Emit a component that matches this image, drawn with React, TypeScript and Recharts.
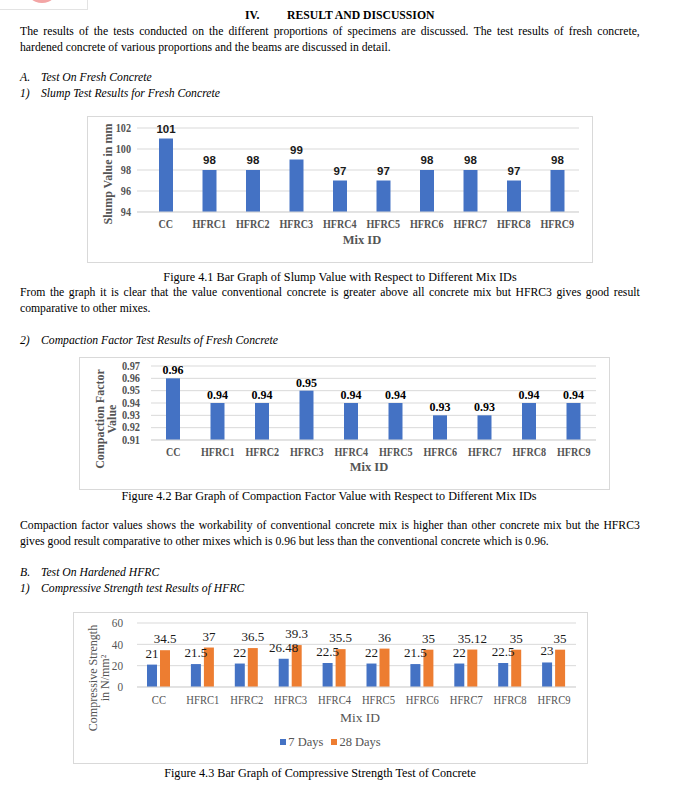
import React from 'react';
import { BarChart, Bar, XAxis, YAxis, CartesianGrid, LabelList, Legend } from 'recharts';

// ---------- data ----------
const mixIds = ['CC', 'HFRC1', 'HFRC2', 'HFRC3', 'HFRC4', 'HFRC5', 'HFRC6', 'HFRC7', 'HFRC8', 'HFRC9'];
const slumpValues = [101, 98, 98, 99, 97, 97, 98, 98, 97, 98];
const slumpTicks = [94, 96, 98, 100, 102];
const compactionValues = [0.96, 0.94, 0.94, 0.95, 0.94, 0.94, 0.93, 0.93, 0.94, 0.94];
const compactionTicks = [0.91, 0.92, 0.93, 0.94, 0.95, 0.96, 0.97];
const strength7Days = [21, 21.5, 22, 26.48, 22.5, 22, 21.5, 22, 22.5, 23];
const strength28Days = [34.5, 37, 36.5, 39.3, 35.5, 36, 35, 35.12, 35, 35];
const strengthTicks = [0, 20, 40, 60];
const strengthSeries = ['7 Days', '28 Days'];

const slumpData = mixIds.map((mix, i) => ({ mix, value: slumpValues[i] }));
const compactionData = mixIds.map((mix, i) => ({ mix, value: compactionValues[i] }));
const strengthData = mixIds.map((mix, i) => ({ mix, d7: strength7Days[i], d28: strength28Days[i] }));

// ---------- styles ----------
const SERIF = '"Liberation Serif", "Times New Roman", serif';
const SANS = '"Liberation Sans", Arial, sans-serif';
const GREY = '#555555';
const BLUE = '#4472C4';
const ORANGE = '#ED7D31';
const GRID = '#d9d9d9';

type TickOpts = {
  size: number;
  weight?: string | number;
  sx?: number;
  dx?: number;
  dy?: number;
  anchor: 'start' | 'middle' | 'end';
  format?: (v: any) => string;
};

function makeTick(o: TickOpts) {
  return (props: any) => {
    const { x, y, payload } = props;
    const label = o.format ? o.format(payload.value) : String(payload.value);
    return (
      <g transform={`translate(${x + (o.dx || 0)},${y + (o.dy || 0)})`}>
        <text
          transform={`scale(${o.sx ?? 1},1)`}
          textAnchor={o.anchor}
          fill={GREY}
          fontFamily={SERIF}
          fontSize={o.size}
          fontWeight={o.weight ?? 'normal'}
        >
          {label}
        </text>
      </g>
    );
  };
}

function yTitle(lines: string[], xs: number[], cy: number, size: number, weight: string | number) {
  return () => (
    <g>
      {lines.map((t, i) => (
        <text
          key={i}
          x={xs[i]}
          y={cy}
          transform={`rotate(-90 ${xs[i]} ${cy})`}
          textAnchor="middle"
          dominantBaseline="central"
          fill={GREY}
          fontFamily={SERIF}
          fontSize={size}
          fontWeight={weight}
        >
          {t}
        </text>
      ))}
    </g>
  );
}

function xTitle(text: string, x: number, y: number, size: number, weight: string | number) {
  return () => (
    <text x={x} y={y} textAnchor="middle" fill={GREY} fontFamily={SERIF} fontSize={size} fontWeight={weight}>
      {text}
    </text>
  );
}

const renderLegend = (props: any) => {
  const items = [...(props.payload || [])].sort(
    (a: any, b: any) => strengthSeries.indexOf(a.value) - strengthSeries.indexOf(b.value)
  );
  return (
    <div
      style={{
        display: 'flex',
        justifyContent: 'center',
        alignItems: 'center',
        fontFamily: SERIF,
        fontSize: 12.5,
        color: GREY,
        lineHeight: '14px',
      }}
    >
      {items.map((it: any, i: number) => (
        <div key={i} style={{ display: 'flex', alignItems: 'center', marginRight: i < items.length - 1 ? 8 : 0 }}>
          <span style={{ width: 6, height: 6, background: it.color, marginRight: 2, display: 'inline-block' }} />
          <span>{it.value}</span>
        </div>
      ))}
    </div>
  );
};

// ---------- text helpers ----------
const BODY = 11.7;

function JLine({ top, text }: { top: number; text: string }) {
  const words = text.split(' ');
  return (
    <div
      style={{
        position: 'absolute',
        left: 20,
        top,
        width: 620,
        height: 16,
        lineHeight: '16px',
        fontSize: BODY,
        display: 'flex',
        justifyContent: 'space-between',
        whiteSpace: 'nowrap',
      }}
    >
      {words.map((w, i) => (
        <span key={i}>{w}</span>
      ))}
    </div>
  );
}

function PLine({ top, text, left = 20 }: { top: number; text: string; left?: number }) {
  return (
    <div style={{ position: 'absolute', left, top, lineHeight: '16px', fontSize: BODY, whiteSpace: 'nowrap' }}>{text}</div>
  );
}

function Heading({ top, num, text }: { top: number; num: string; text: string }) {
  return (
    <>
      <div style={{ position: 'absolute', left: 20, top, lineHeight: '16px', fontSize: BODY, fontStyle: 'italic', whiteSpace: 'nowrap' }}>
        {num}
      </div>
      <div style={{ position: 'absolute', left: 41, top, lineHeight: '16px', fontSize: BODY, fontStyle: 'italic', whiteSpace: 'nowrap' }}>
        {text}
      </div>
    </>
  );
}

function Caption({ top, cx, text }: { top: number; cx: number; text: string }) {
  return (
    <div
      style={{
        position: 'absolute',
        left: cx - 300,
        top,
        width: 600,
        textAlign: 'center',
        lineHeight: '16px',
        fontSize: 12.2,
        whiteSpace: 'nowrap',
      }}
    >
      {text}
    </div>
  );
}

function Frame({ left, top, width, height, children }: any) {
  return (
    <div style={{ position: 'absolute', left, top, width, height }}>
      <div
        style={{
          position: 'absolute',
          left: 0,
          top: 0,
          width,
          height,
          border: `1px solid ${GRID}`,
          boxSizing: 'border-box',
          pointerEvents: 'none',
        }}
      />
      <div style={{ position: 'absolute', left: 0, top: 0 }}>{children}</div>
    </div>
  );
}

// ---------- charts ----------
function SlumpChart() {
  return (
    <BarChart width={506} height={147} data={slumpData} margin={{ top: 12, right: 14, bottom: 0, left: 0 }}>
      <CartesianGrid vertical={false} stroke={GRID} />
      <XAxis
        dataKey="mix"
        height={51}
        interval={0}
        tickLine={false}
        tickSize={0}
        tickMargin={0}
        axisLine={{ stroke: GRID }}
        padding={{ left: 7, right: 0 }}
        tick={makeTick({ size: 11.5, weight: 'bold', anchor: 'middle', dy: 15.5, sx: 0.88 })}
        label={xTitle('Mix ID', 275, 128, 12.5, 'bold')}
      />
      <YAxis
        width={50}
        domain={[94, 102]}
        ticks={slumpTicks}
        interval={0}
        axisLine={false}
        tickLine={false}
        tickSize={0}
        tickMargin={0}
        tick={makeTick({ size: 12, weight: 'bold', anchor: 'end', dx: -6, dy: 4, sx: 0.85 })}
        label={yTitle(['Slump Value in mm'], [21], 58, 12, 'bold')}
      />
      <Bar dataKey="value" fill={BLUE} barSize={14} isAnimationActive={false}>
        <LabelList dataKey="value" position="top" offset={6} fill="#1a1a1a" fontSize={11.5} fontFamily={SANS} fontWeight="bold" />
      </Bar>
    </BarChart>
  );
}

function CompactionChart() {
  return (
    <BarChart width={531} height={133} data={compactionData} margin={{ top: 9, right: 14, bottom: 0, left: 0 }}>
      <CartesianGrid vertical={false} stroke={GRID} />
      <XAxis
        dataKey="mix"
        height={50}
        interval={0}
        tickLine={false}
        tickSize={0}
        tickMargin={0}
        axisLine={{ stroke: GRID }}
        tick={makeTick({ size: 11.5, weight: 'bold', anchor: 'middle', dy: 16, sx: 0.88 })}
        label={xTitle('Mix ID', 290, 114, 12.5, 'bold')}
      />
      <YAxis
        width={72}
        domain={[0.91, 0.97]}
        ticks={compactionTicks}
        interval={0}
        axisLine={false}
        tickLine={false}
        tickSize={0}
        tickMargin={0}
        tick={makeTick({ size: 11.5, weight: 'bold', anchor: 'end', dx: -11, dy: 3.8, sx: 0.9, format: (v) => Number(v).toFixed(2) })}
        label={yTitle(['Compaction Factor', 'Value'], [21, 33], 62, 12, 'bold')}
      />
      <Bar dataKey="value" fill={BLUE} barSize={14} isAnimationActive={false}>
        <LabelList dataKey="value" position="top" offset={4} fill="#000" fontSize={12} fontFamily={SERIF} fontWeight="bold" />
      </Bar>
    </BarChart>
  );
}

function StrengthChart() {
  return (
    <BarChart width={515} height={152} data={strengthData} barGap={3} margin={{ top: 11, right: 12, bottom: 0, left: 0 }}>
      <CartesianGrid vertical={false} stroke={GRID} />
      <XAxis
        dataKey="mix"
        height={77}
        interval={0}
        tickLine={false}
        tickSize={0}
        tickMargin={0}
        axisLine={{ stroke: GRID }}
        tick={makeTick({ size: 12.5, anchor: 'middle', dy: 17, sx: 0.85 })}
        label={xTitle('Mix ID', 287, 110, 13.5, 'normal')}
      />
      <YAxis
        width={64}
        domain={[0, 60]}
        ticks={strengthTicks}
        interval={0}
        axisLine={false}
        tickLine={false}
        tickSize={0}
        tickMargin={0}
        tick={makeTick({ size: 12.5, anchor: 'end', dx: -14, dy: 4.3, sx: 0.9 })}
        label={yTitle(['Compressive Strength', 'in N/mm\u00B2'], [20, 32], 66, 12, 'normal')}
      />
      <Legend
        layout="horizontal"
        verticalAlign="middle"
        align="center"
        content={renderLegend}
        wrapperStyle={{ top: 123, left: 0, width: 515 }}
      />
      <Bar dataKey="d7" name={strengthSeries[0]} fill={BLUE} barSize={10} isAnimationActive={false}>
        <LabelList dataKey="d7" position="top" offset={7} fill="#1a1a1a" fontSize={13} fontFamily={SERIF} />
      </Bar>
      <Bar dataKey="d28" name={strengthSeries[1]} fill={ORANGE} barSize={10} isAnimationActive={false}>
        <LabelList dataKey="d28" position="top" offset={7} fill="#1a1a1a" fontSize={13} fontFamily={SERIF} />
      </Bar>
    </BarChart>
  );
}

export default function App() {
  return (
    <div
      style={{
        position: 'absolute',
        left: 0,
        top: 0,
        width: 677,
        height: 787,
        background: '#fff',
        overflow: 'hidden',
        fontFamily: SERIF,
        color: '#000',
      }}
    >
      {/* logo remnant */}
      <div
        style={{
          position: 'absolute',
          left: -1,
          top: -1,
          width: 89,
          height: 11,
          borderRight: '1px solid #e3e3e3',
          borderBottom: '1px solid #e3e3e3',
          boxSizing: 'border-box',
          overflow: 'hidden',
        }}
      >
        <div
          style={{
            position: 'absolute',
            left: 26,
            top: -30,
            width: 34,
            height: 34,
            borderRadius: '50%',
            background: '#f3a5a5',
          }}
        />
      </div>

      <div style={{ position: 'absolute', left: 245, top: 8, lineHeight: '16px', fontSize: BODY, fontWeight: 'bold' }}>IV.</div>
      <div style={{ position: 'absolute', left: 287, top: 8, lineHeight: '16px', fontSize: BODY, fontWeight: 'bold' }}>
        RESULT AND DISCUSSION
      </div>
      <JLine
        top={24}
        text="The results of the tests conducted on the different proportions of specimens are discussed. The test results of fresh concrete,"
      />
      <PLine top={40} text="hardened concrete of various proportions and the beams are discussed in detail." />

      <Heading top={70} num="A." text="Test On Fresh Concrete" />
      <Heading top={86} num="1)" text="Slump Test Results for Fresh Concrete" />

      <Frame left={87} top={116} width={506} height={147}>
        <SlumpChart />
      </Frame>

      <Caption top={269} cx={340} text="Figure 4.1 Bar Graph of Slump Value with Respect to Different Mix IDs" />
      <JLine
        top={285}
        text="From the graph it is clear that the value conventional concrete is greater above all concrete mix but HFRC3 gives good result"
      />
      <PLine top={301} text="comparative to other mixes." />

      <Heading top={333} num="2)" text="Compaction Factor Test Results of Fresh Concrete" />

      <Frame left={79} top={357} width={531} height={133}>
        <CompactionChart />
      </Frame>

      <Caption top={488} cx={329} text="Figure 4.2 Bar Graph of Compaction Factor Value with Respect to Different Mix IDs" />
      <JLine
        top={518}
        text="Compaction factor values shows the workability of conventional concrete mix is higher than other concrete mix but the HFRC3"
      />
      <PLine
        top={534}
        text="gives good result comparative to other mixes which is 0.96 but less than the conventional concrete which is 0.96."
      />

      <Heading top={565} num="B." text="Test On Hardened HFRC" />
      <Heading top={581} num="1)" text="Compressive Strength test Results of HFRC" />

      <Frame left={73} top={612} width={515} height={152}>
        <StrengthChart />
      </Frame>

      <Caption top={765} cx={320} text="Figure 4.3 Bar Graph of Compressive Strength Test of Concrete" />
    </div>
  );
}
